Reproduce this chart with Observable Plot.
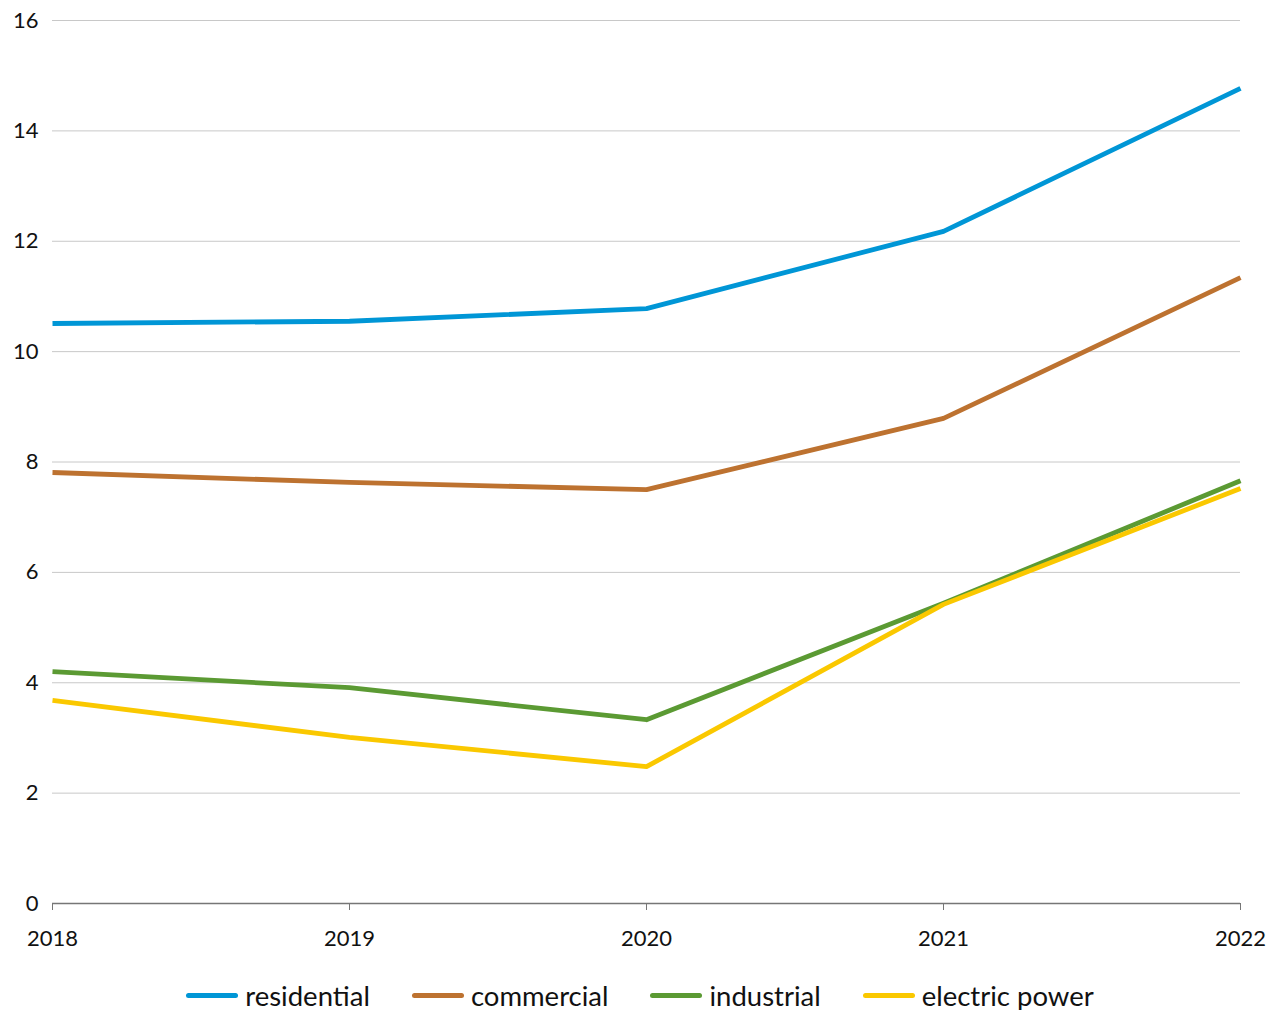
<!DOCTYPE html>
<html>
<head>
<meta charset="utf-8">
<script src="https://cdn.jsdelivr.net/npm/d3@7"></script>
<script src="https://cdn.jsdelivr.net/npm/@observablehq/plot@0.6"></script>
<style>
  body { margin: 0; background: #fff; font-family: Lato, "Open Sans", sans-serif; }
  #legend { display: flex; justify-content: center; align-items: center; gap: 42px; height: 30px; padding-top: 20px; font-size: 27.5px; color: #111; padding-left: 8px; }
  #legend .item { display: flex; align-items: center; }
  #legend .sw { width: 52px; height: 5px; border-radius: 3px; margin-right: 7px; }
</style>
</head>
<body>
<div id="chart"></div>
<div id="legend"></div>
<script>
const years = [2018, 2019, 2020, 2021, 2022];
const seriesNames = ["residential", "commercial", "industrial", "electric power"];
const residential = [10.51, 10.55, 10.78, 12.18, 14.77];
const commercial = [7.81, 7.63, 7.50, 8.79, 11.34];
const industrial = [4.20, 3.91, 3.33, 5.44, 7.66];
const electricPower = [3.68, 3.01, 2.48, 5.42, 7.52];
const colors = ["#0096d6", "#bd7230", "#5b9a33", "#fac800"];
const yTicks = [0, 2, 4, 6, 8, 10, 12, 14, 16];

const allSeries = [residential, commercial, industrial, electricPower];
const data = [];
allSeries.forEach((vals, i) => years.forEach((yr, j) => data.push({series: seriesNames[i], year: yr, value: vals[j]})));

const chart = Plot.plot({
  width: 1272,
  height: 960,
  marginLeft: 52,
  marginRight: 32,
  marginTop: 20,
  marginBottom: 57,
  style: {fontFamily: "Lato, 'Open Sans', sans-serif", fontSize: "22px", color: "#111"},
  x: {domain: [2018, 2022], ticks: years, tickFormat: d => String(d), label: null},
  y: {domain: [0, 16], ticks: yTicks, label: null},
  color: {domain: seriesNames, range: colors},
  marks: [
    Plot.gridY(yTicks.filter(d => d > 0), {stroke: "#c8c8c8", strokeOpacity: 1, strokeWidth: 1}),
    Plot.axisY({ticks: yTicks, tickSize: 0, tickPadding: 14, fontSize: 22, label: null}),
    Plot.ruleY([0], {stroke: "#767676", strokeWidth: 1.3}),
    Plot.axisX({ticks: years, tickFormat: d => String(d), tickSize: 7, tickPadding: 20, stroke: "#767676", fontSize: 22, label: null}),
    Plot.line(data, {x: "year", y: "value", z: "series", stroke: "series", strokeWidth: 4.8, strokeLinejoin: "round", strokeLinecap: "butt"})
  ]
});
document.getElementById("chart").appendChild(chart);

const legend = document.getElementById("legend");
seriesNames.forEach((name, i) => {
  const item = document.createElement("div");
  item.className = "item";
  item.innerHTML = `<span class="sw" style="background:${colors[i]}"></span><span>${name}</span>`;
  legend.appendChild(item);
});
</script>
</body>
</html>
